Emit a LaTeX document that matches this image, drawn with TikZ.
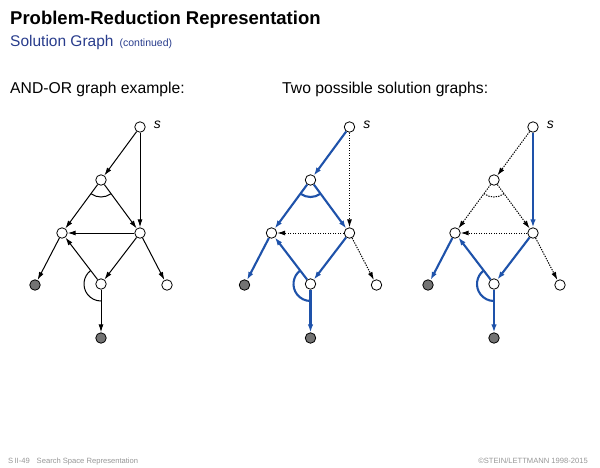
\documentclass[tikz,border=0pt]{standalone}
\usepackage{fontspec}
\setmainfont{Liberation Sans}
\usetikzlibrary{arrows.meta,angles}
\definecolor{solblue}{RGB}{30,82,170}
\definecolor{subblue}{RGB}{40,60,140}
\definecolor{leafgray}{RGB}{115,115,115}
\definecolor{footgray}{RGB}{150,150,150}
\begin{document}
\begin{tikzpicture}[x=1pt,y=1pt,
  vtx/.style={circle,draw,line width=0.8pt,fill=white,minimum size=10.5pt,inner sep=0pt},
  leaf/.style={vtx,fill=leafgray},
  plain/.style={line width=1pt,-{Latex[length=8pt,width=5pt]}},
  sol/.style={solblue,line width=2.1pt,-{Latex[length=8pt,width=5.5pt]}},
  dots/.style={line width=1pt,dash pattern=on 1.3pt off 1.2pt,-{Latex[length=8pt,width=5pt]}},
  andarc/.style={draw,line width=1pt,angle radius=17pt},
  andsol/.style={draw=solblue,line width=2.1pt,angle radius=17pt},
  anddot/.style={draw,line width=1pt,dash pattern=on 1.3pt off 1.2pt,angle radius=17pt},
  slabel/.style={font=\itshape\fontsize{14}{14}\selectfont,inner sep=0pt,anchor=west},
  txt/.style={inner sep=0pt,anchor=base west}
]
\useasboundingbox (0,0) rectangle (600,-467);

% titles
\node[txt,font=\bfseries\fontsize{18.5}{20}\selectfont] (title) at (10,-24) {Problem-Reduction Representation};
\node[txt,text=subblue,font=\fontsize{15.5}{16}\selectfont] (sub) at (10,-46) {Solution Graph\hspace{6pt}{\fontsize{10.5}{11}\selectfont(continued)}};
\node[txt,font=\fontsize{15.7}{16}\selectfont] (h1) at (10,-93) {AND-OR graph example:};
\node[txt,font=\fontsize{15.7}{16}\selectfont] (h2) at (282,-93) {Two possible solution graphs:};

% footer
\node[txt,text=footgray,font=\fontsize{7.6}{8}\selectfont] (f1) at (8,-463) {S\,II-49\hspace{7pt}Search Space Representation};
\node[inner sep=0pt,anchor=base east,text=footgray,font=\fontsize{7.6}{8}\selectfont] (f2) at (588,-463) {\textcopyright STEIN/LETTMANN 1998-2015};

% ---------- graph 1 ----------
\begin{scope}
\node[vtx] (g1s) at (140,-127) {};
\node[vtx] (g1A) at (101,-180) {};
\node[vtx] (g1L) at (62,-233) {};
\node[vtx] (g1R) at (140,-233) {};
\node[vtx] (g1B) at (101,-284) {};
\node[leaf] (g1LL) at (35,-285) {};
\node[vtx] (g1RR) at (167,-285) {};
\node[leaf] (g1BB) at (101,-338) {};
\node[slabel] (g1lab) at ([xshift=8pt,yshift=2pt]g1s.east) {s};
\draw[plain] (g1s) -- (g1A);
\draw[plain] (g1s) -- (g1R);
\draw[plain] (g1A) -- (g1L);
\draw[plain] (g1A) -- (g1R);
\draw[plain] (g1R) -- (g1L);
\draw[plain] (g1R) -- (g1RR);
\draw[plain] (g1R) -- (g1B);
\draw[plain] (g1B) -- (g1L);
\draw[plain] (g1B) -- (g1BB);
\draw[plain] (g1L) -- (g1LL);
\pic[andarc] {angle = g1L--g1A--g1R};
\pic[andarc] {angle = g1L--g1B--g1BB};
\end{scope}

% ---------- graph 2 ----------
\begin{scope}[shift={(209.5,0)}]
\node[vtx] (g2s) at (140,-127) {};
\node[vtx] (g2A) at (101,-180) {};
\node[vtx] (g2L) at (62,-233) {};
\node[vtx] (g2R) at (140,-233) {};
\node[vtx] (g2B) at (101,-284) {};
\node[leaf] (g2LL) at (35,-285) {};
\node[vtx] (g2RR) at (167,-285) {};
\node[leaf] (g2BB) at (101,-338) {};
\node[slabel] (g2lab) at ([xshift=8pt,yshift=2pt]g2s.east) {s};
\draw[sol] (g2s) -- (g2A);
\draw[dots] (g2s) -- (g2R);
\draw[sol] (g2A) -- (g2L);
\draw[sol] (g2A) -- (g2R);
\draw[dots] (g2R) -- (g2L);
\draw[dots] (g2R) -- (g2RR);
\draw[sol] (g2R) -- (g2B);
\draw[sol] (g2B) -- (g2L);
\draw[sol] (g2B) -- (g2BB);
\draw[sol] (g2L) -- (g2LL);
\pic[andsol] {angle = g2L--g2A--g2R};
\pic[andsol] {angle = g2L--g2B--g2BB};
\end{scope}

% ---------- graph 3 ----------
\begin{scope}[shift={(393,0)}]
\node[vtx] (g3s) at (140,-127) {};
\node[vtx] (g3A) at (101,-180) {};
\node[vtx] (g3L) at (62,-233) {};
\node[vtx] (g3R) at (140,-233) {};
\node[vtx] (g3B) at (101,-284) {};
\node[leaf] (g3LL) at (35,-285) {};
\node[vtx] (g3RR) at (167,-285) {};
\node[leaf] (g3BB) at (101,-338) {};
\node[slabel] (g3lab) at ([xshift=8pt,yshift=2pt]g3s.east) {s};
\draw[dots] (g3s) -- (g3A);
\draw[sol] (g3s) -- (g3R);
\draw[dots] (g3A) -- (g3L);
\draw[dots] (g3A) -- (g3R);
\draw[dots] (g3R) -- (g3L);
\draw[dots] (g3R) -- (g3RR);
\draw[sol] (g3R) -- (g3B);
\draw[sol] (g3B) -- (g3L);
\draw[sol] (g3B) -- (g3BB);
\draw[sol] (g3L) -- (g3LL);
\pic[anddot] {angle = g3L--g3A--g3R};
\pic[andsol] {angle = g3L--g3B--g3BB};
\end{scope}
\end{tikzpicture}
\end{document}
